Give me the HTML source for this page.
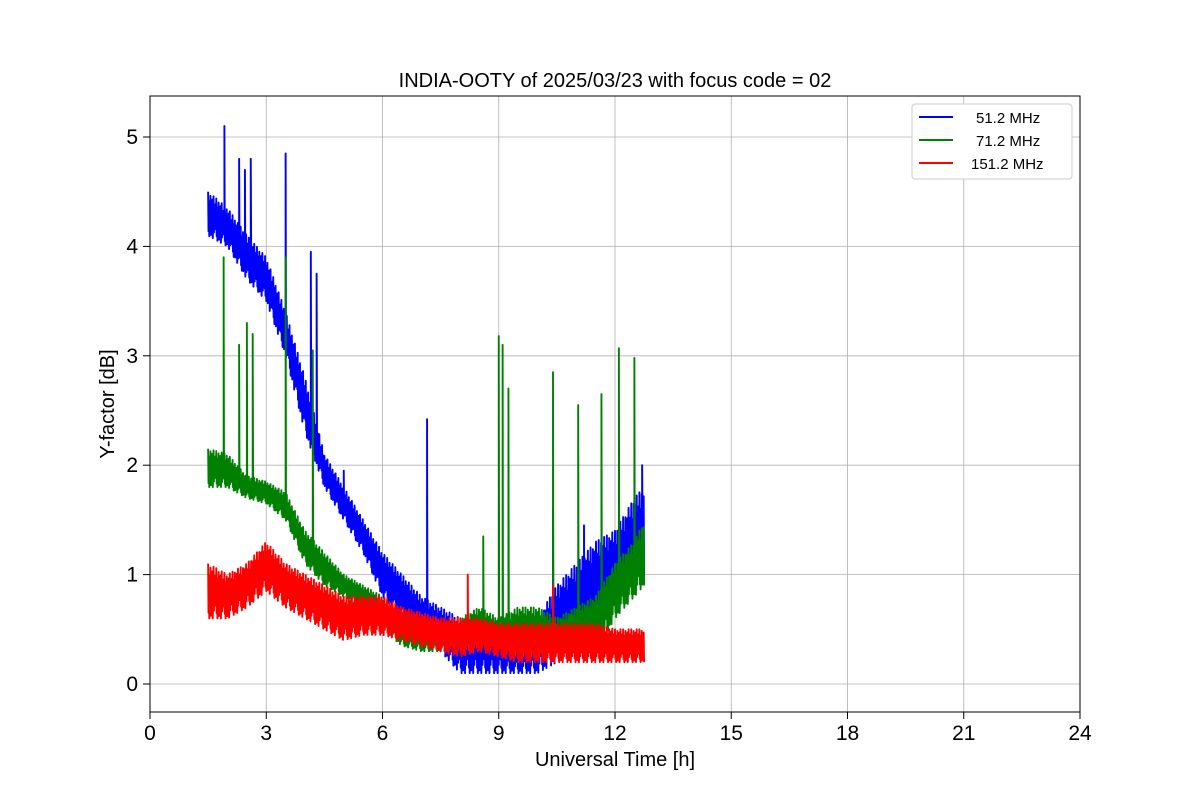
<!DOCTYPE html>
<html><head><meta charset="utf-8"><style>
body{margin:0;background:#fff;}
svg{font-family:"Liberation Sans","DejaVu Sans",sans-serif;}
</style></head><body>
<svg id="chart" width="1200" height="800">
<rect width="1200" height="800" fill="#fff"/>
<g id="grid"></g>
<g id="series" clip-path="url(#clip)"></g>
<clipPath id="clip"><rect x="150" y="96" width="930" height="616"/></clipPath>
<rect x="150" y="96" width="930" height="616" fill="none" stroke="#000" stroke-width="1"/>
<g id="ticks"></g>
<text x="615" y="87" font-size="20" text-anchor="middle">INDIA-OOTY of 2025/03/23 with focus code = 02</text>
<text x="615" y="766" font-size="20" text-anchor="middle">Universal Time [h]</text>
<text x="114" y="404" font-size="20" text-anchor="middle" transform="rotate(-90 114 404)">Y-factor [dB]</text>
<g>
<rect x="912" y="104" width="160" height="75" rx="3" fill="#fff" stroke="#ccc"/>
<line x1="919" y1="117" x2="953" y2="117" stroke="blue" stroke-width="2"/>
<text x="976" y="123" font-size="15">51.2 MHz</text>
<line x1="919" y1="140" x2="953" y2="140" stroke="green" stroke-width="2"/>
<text x="976" y="146" font-size="15">71.2 MHz</text>
<line x1="919" y1="163" x2="953" y2="163" stroke="red" stroke-width="2"/>
<text x="971" y="169" font-size="15">151.2 MHz</text>
</g>
</svg>
<script>
const binTimes=[1.5,2,2.5,3,3.5,4,4.5,5,5.5,6,6.5,7,7.5,8,8.5,9,9.5,10,10.5,11,11.5,12,12.5,12.75];
const blueLo=[4.1,4.0,3.7,3.5,3.0,2.3,1.8,1.5,1.2,0.8,0.6,0.4,0.3,0.1,0.1,0.1,0.1,0.1,0.2,0.3,0.5,0.7,0.9,1.0];
const blueHi=[4.5,4.35,4.1,3.9,3.4,2.8,2.1,1.8,1.5,1.2,1.0,0.8,0.7,0.6,0.6,0.6,0.5,0.6,0.9,1.1,1.3,1.4,1.7,1.8];
const greenLo=[1.8,1.8,1.7,1.65,1.5,1.1,0.9,0.8,0.7,0.5,0.35,0.3,0.3,0.3,0.35,0.3,0.3,0.3,0.2,0.3,0.3,0.6,0.8,0.9];
const greenHi=[2.15,2.1,1.9,1.85,1.75,1.4,1.2,1.0,0.9,0.8,0.6,0.55,0.5,0.6,0.7,0.6,0.7,0.7,0.6,0.7,0.8,1.1,1.3,1.5];
const redLo=[0.6,0.6,0.7,0.85,0.7,0.6,0.5,0.4,0.45,0.45,0.4,0.35,0.3,0.25,0.3,0.25,0.2,0.2,0.2,0.2,0.2,0.2,0.2,0.2];
const redHi=[1.1,1.0,1.1,1.3,1.1,1.0,0.9,0.8,0.8,0.8,0.7,0.65,0.6,0.6,0.6,0.55,0.55,0.55,0.55,0.55,0.55,0.5,0.5,0.5];
const blueSpikeT=[1.92,2.3,2.45,2.6,3.5,4.15,4.3,5.0,7.15,10.4,11.2,12.7];
const blueSpikeV=[5.1,4.8,4.7,4.8,4.85,3.95,3.75,1.95,2.42,1.6,1.45,2.0];
const greenSpikeT=[1.9,2.3,2.5,2.65,3.5,4.2,8.6,9.0,9.1,9.25,10.4,11.05,11.65,12.1,12.5];
const greenSpikeV=[3.9,3.1,3.3,3.2,3.9,3.05,1.35,3.18,3.1,2.7,2.85,2.55,2.65,3.07,2.98];
const redSpikeT=[8.2,10.4];
const redSpikeV=[1.0,0.9];
const xTicks=[0,3,6,9,12,15,18,21,24];
const yTicks=[0,1,2,3,4,5];

const X=t=>150+t*(930/24);
const Y=v=>684-v*(547/5);
const NS="http://www.w3.org/2000/svg";
function mk(tag,attrs,parent){const e=document.createElementNS(NS,tag);for(const k in attrs)e.setAttribute(k,attrs[k]);parent.appendChild(e);return e;}
const grid=document.getElementById('grid'),ticks=document.getElementById('ticks'),ser=document.getElementById('series');
xTicks.forEach(t=>{
  const l=mk('line',{x1:X(t),x2:X(t),y1:96,y2:712,stroke:'#b0b0b0','stroke-width':0.8},grid);
  
  
  mk('line',{x1:X(t),x2:X(t),y1:712,y2:719,stroke:'#000'},ticks);
  const tx=mk('text',{x:X(t),y:740,'font-size':21,'text-anchor':'middle'},ticks);tx.textContent=t;
  
  
});
yTicks.forEach(v=>{
  const l=mk('line',{x1:150,x2:1080,y1:Y(v),y2:Y(v),stroke:'#b0b0b0','stroke-width':0.8},grid);
  
  
  mk('line',{x1:143,x2:150,y1:Y(v),y2:Y(v),stroke:'#000'},ticks);
  const tx=mk('text',{x:138,y:Y(v)+7,'font-size':21,'text-anchor':'end'},ticks);tx.textContent=v;
  
  
});
const pattern=[1,0.1,0.8,0,0.6,0.3,0.95,0.05,0.7,0.2,0.5,0.9,0,0.4,1,0.15,0.75,0.35,0.55,0.85,0.25];
function interp(arr,t){for(let i=0;i<binTimes.length-1;i++){if(t<=binTimes[i+1]){const f=(t-binTimes[i])/(binTimes[i+1]-binTimes[i]);return arr[i]+f*(arr[i+1]-arr[i]);}}return arr[arr.length-1];}
function draw(lo,hi,sT,sV,color,name){
  const t0=binTimes[0],t1=binTimes[binTimes.length-1];const step=0.01;let pts=[];let k=0;
  for(let t=t0;t<=t1+1e-9;t+=step){
    const l=interp(lo,t),h=interp(hi,t);const f=pattern[k%pattern.length];k++;
    let v=l+f*(h-l);
    for(let j=0;j<sT.length;j++){if(Math.abs(t-sT[j])<step/2){pts.push(X(t)+','+Y(v));v=sV[j];}}
    pts.push(X(t)+','+Y(v));
  }
  const p=mk('polyline',{points:pts.join(' '),fill:'none',stroke:color,'stroke-width':1.9,'stroke-linejoin':'round'},ser);
  
  
}
draw(blueLo,blueHi,blueSpikeT,blueSpikeV,'blue','series-51-2-mhz');
draw(greenLo,greenHi,greenSpikeT,greenSpikeV,'green','series-71-2-mhz');
draw(redLo,redHi,redSpikeT,redSpikeV,'red','series-151-2-mhz');
</script>
</body></html>
